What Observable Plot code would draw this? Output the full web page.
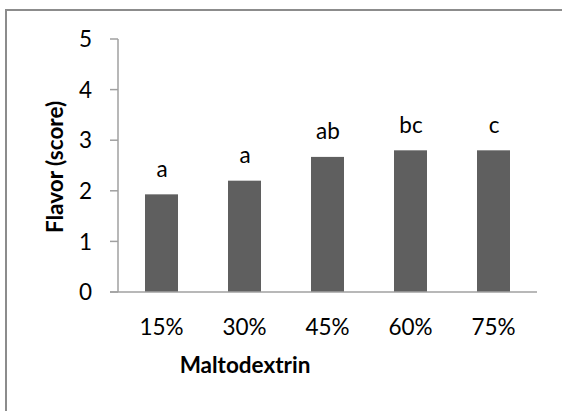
<!DOCTYPE html>
<html>
<head>
<meta charset="utf-8">
<script src="https://cdn.jsdelivr.net/npm/d3@7"></script>
<script src="https://cdn.jsdelivr.net/npm/@observablehq/plot@0.6"></script>
<style>
  html, body { margin: 0; padding: 0; background: #fff; }
  #wrap { position: relative; width: 562px; height: 411px; overflow: hidden; }
  #frame { position: absolute; left: 5px; top: 9px; width: 600px; height: 500px;
           border-top: 2px solid #8c8c8c; border-left: 2px solid #8c8c8c; }
  #chart { position: absolute; left: 0; top: 0; }
</style>
</head>
<body>
<div id="wrap"><div id="frame"></div><div id="chart"></div></div>
<script>
const categories = ["15%", "30%", "45%", "60%", "75%"];
const values = [1.93, 2.2, 2.67, 2.8, 2.8];
const letters = ["a", "a", "ab", "bc", "c"];
const yTicks = [0, 1, 2, 3, 4, 5];

const data = categories.map((c, i) => ({cat: c, v: values[i], lab: letters[i]}));
const font = "Lato, 'Open Sans', sans-serif";
const fs = 22.5;

const plot = Plot.plot({
  width: 562,
  height: 411,
  marginLeft: 118,
  marginRight: 25,
  marginTop: 39,
  marginBottom: 119,
  style: {fontFamily: font, fontSize: fs + "px", color: "#000", background: "transparent"},
  x: {domain: categories, paddingInner: 0.6, paddingOuter: 0.3, axis: null},
  y: {domain: [0, 5], axis: null},
  marks: [
    Plot.barY(data, {x: "cat", y: "v", fill: "#5f5f5f"}),
    Plot.text(data, {x: "cat", y: "v", text: "lab", lineAnchor: "bottom", dy: -18, fontSize: fs, fill: "#000"})
  ]
});
document.getElementById("chart").appendChild(plot);

const svg = d3.select(plot);
const xs = plot.scale("x");
const ys = plot.scale("y");
const x0 = 118, x1 = 537;
const g = svg.append("g");
g.append("line").attr("x1", x0).attr("x2", x0).attr("y1", ys.apply(5)).attr("y2", ys.apply(0))
  .attr("stroke", "#a0a0a0").attr("stroke-width", 1.5);
g.append("line").attr("x1", x0 - 8).attr("x2", x1).attr("y1", ys.apply(0)).attr("y2", ys.apply(0))
  .attr("stroke", "#a0a0a0").attr("stroke-width", 1.5);
yTicks.forEach(t => {
  const y = ys.apply(t);
  g.append("line").attr("x1", x0 - 8).attr("x2", x0).attr("y1", y).attr("y2", y)
    .attr("stroke", "#a0a0a0").attr("stroke-width", 1.5);
  g.append("text").attr("x", 92).attr("y", y).attr("dy", "0.36em").attr("text-anchor", "end")
    .attr("font-family", font).attr("font-size", fs).text(t);
});
categories.forEach(c => {
  g.append("text").attr("x", xs.apply(c) + xs.bandwidth / 2).attr("y", 327).attr("dy", "0.36em")
    .attr("text-anchor", "middle").attr("font-family", font).attr("font-size", fs).text(c);
});
g.append("text").attr("x", 245).attr("y", 365).attr("dy", "0.36em").attr("text-anchor", "middle")
  .attr("font-family", font).attr("font-size", fs).attr("font-weight", "bold").text("Maltodextrin");
g.append("text").attr("transform", "translate(55,167) rotate(-90)").attr("dy", "0.36em")
  .attr("text-anchor", "middle").attr("font-family", font).attr("font-size", fs)
  .attr("font-weight", "bold").text("Flavor (score)");
</script>
</body>
</html>
